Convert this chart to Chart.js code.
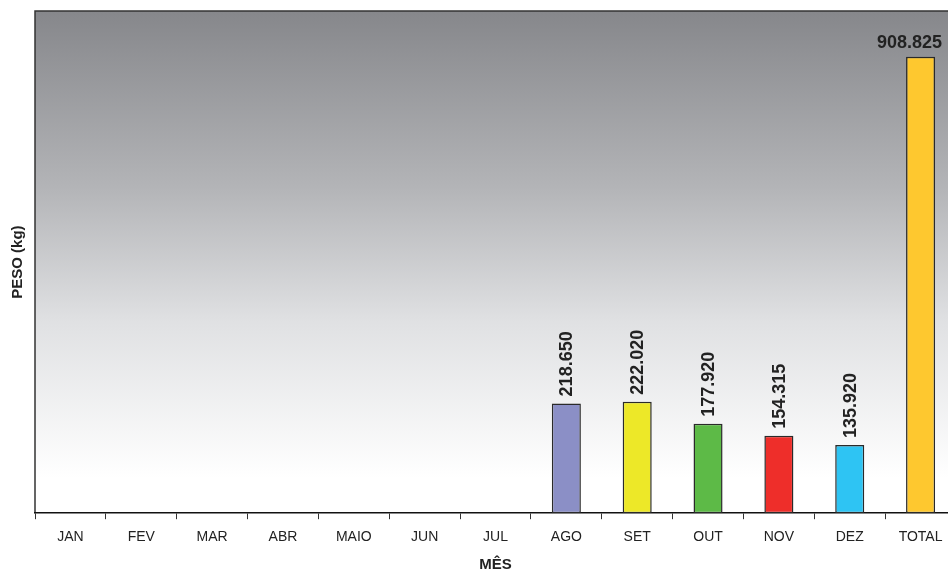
<!DOCTYPE html>
<html>
<head>
<meta charset="utf-8">
<script src="https://cdn.jsdelivr.net/npm/chart.js@4"></script>
<style>
  html, body { margin: 0; padding: 0; background: #fff; overflow: hidden; }
  #wrap { width: 960px; height: 572px; }
</style>
</head>
<body>
<div id="wrap"><canvas id="chart"></canvas></div>
<script>
// months (Portuguese) + total column
const months = ['JAN', 'FEV', 'MAR', 'ABR', 'MAIO', 'JUN', 'JUL', 'AGO', 'SET', 'OUT', 'NOV', 'DEZ', 'TOTAL'];
// weight in kg, no data before August
const weights = [null, null, null, null, null, null, null, 218650, 222020, 177920, 154315, 135920, 908825];
const barColors = ['#8b8fc6', '#8b8fc6', '#8b8fc6', '#8b8fc6', '#8b8fc6', '#8b8fc6', '#8b8fc6',
                   '#8b8fc6', '#ede828', '#5dba47', '#ee2e2a', '#2ec4f3', '#fec82f'];

function fmt(v) {
    return String(v).replace(/\B(?=(\d{3})+(?!\d))/g, '.');
}

// gray-to-white background behind the bars
const bgPlugin = {
    id: 'bg',
    beforeDraw(chart) {
        const { ctx, chartArea: a } = chart;
        const g = ctx.createLinearGradient(0, a.top, 0, a.bottom);
        g.addColorStop(0, '#86878b');
        g.addColorStop(0.35, '#b3b4b7');
        g.addColorStop(0.62, '#e0e1e3');
        g.addColorStop(0.93, '#ffffff');
        g.addColorStop(1, '#ffffff');
        ctx.save();
        ctx.fillStyle = g;
        ctx.fillRect(a.left, a.top, a.right - a.left, a.bottom - a.top);
        ctx.strokeStyle = '#333';
        ctx.lineWidth = 1.5;
        ctx.beginPath();
        ctx.moveTo(a.left, a.bottom);
        ctx.lineTo(a.left, a.top);
        ctx.lineTo(a.right, a.top);
        ctx.stroke();
        ctx.restore();
    }
};

// value labels: vertical above monthly bars, horizontal above the total
const labelPlugin = {
    id: 'valueLabels',
    afterDatasetsDraw(chart) {
        const { ctx } = chart;
        const meta = chart.getDatasetMeta(0);
        ctx.save();
        ctx.font = 'bold 18px "Liberation Sans", Arial, sans-serif';
        ctx.fillStyle = '#222';
        meta.data.forEach((bar, i) => {
            const v = weights[i];
            if (v == null) return;
            const txt = fmt(v);
            if (months[i] === 'TOTAL') {
                const w = ctx.measureText(txt).width;
                const x = Math.min(bar.x, window.innerWidth - 6 - w / 2);
                ctx.textAlign = 'center';
                ctx.textBaseline = 'bottom';
                ctx.fillText(txt, x, bar.y - 5);
            } else {
                ctx.save();
                ctx.translate(bar.x, bar.y - 7);
                ctx.rotate(-Math.PI / 2);
                ctx.textAlign = 'left';
                ctx.textBaseline = 'middle';
                ctx.fillText(txt, 0, 1);
                ctx.restore();
            }
        });
        ctx.restore();
    }
};

new Chart(document.getElementById('chart'), {
    type: 'bar',
    data: {
        labels: months,
        datasets: [{
            label: 'PESO (kg)',
            data: weights,
            backgroundColor: barColors,
            borderColor: '#2a2a2a',
            borderWidth: 1.5,
            borderSkipped: false,
            categoryPercentage: 1,
            barPercentage: 0.41
        }]
    },
    options: {
        responsive: true,
        maintainAspectRatio: false,
        animation: false,
        layout: { padding: { top: 11, right: 4, left: 0, bottom: -2 } },
        plugins: {
            legend: { display: false },
            tooltip: { enabled: false }
        },
        scales: {
            x: {
                grid: { display: true, drawOnChartArea: false, drawTicks: true, tickLength: 6, color: '#333', offset: true },
                border: { display: true, color: '#111', width: 1.5 },
                ticks: { color: '#222', padding: 10, font: { family: '"Liberation Sans", Arial, sans-serif', size: 14 } },
                title: {
                    display: true, text: 'MÊS', color: '#222',
                    font: { family: '"Liberation Sans", Arial, sans-serif', size: 15, weight: 'bold' },
                    padding: { top: 0, bottom: 0 }
                }
            },
            y: {
                min: 0,
                max: 1000000,
                grid: { display: false, drawTicks: false },
                border: { display: false },
                ticks: { display: false },
                title: {
                    display: true, text: 'PESO (kg)', color: '#222',
                    font: { family: '"Liberation Sans", Arial, sans-serif', size: 15, weight: 'bold' },
                    padding: { top: 9, bottom: 8 }
                }
            }
        }
    },
    plugins: [bgPlugin, labelPlugin]
});
</script>
</body>
</html>
